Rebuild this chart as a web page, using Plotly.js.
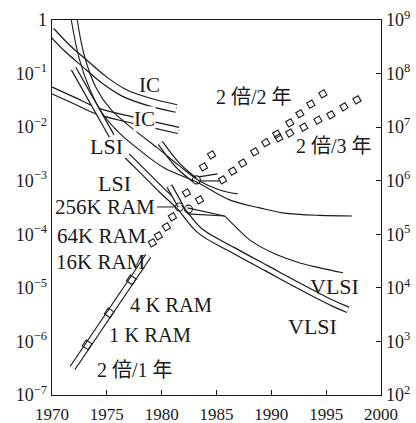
<!DOCTYPE html>
<html><head><meta charset="utf-8">
<script src="https://cdn.plot.ly/plotly-3.0.1.min.js"></script>
<style>html,body{margin:0;padding:0;background:#fff}#chart{width:416px;height:423px}</style>
</head><body><div id="chart"></div>
<script>
// ---------- descending curves (left axis) ----------
const icUpperYear = [1969.9, 1971.37, 1972.93, 1974.76, 1976.59, 1978.87, 1981.34];
const icUpperCost = [0.62, 0.30, 0.158, 0.076, 0.0435, 0.0295, 0.0223];
const icLowerYear = [1969.9, 1972.01, 1974.12, 1976.13, 1978.87, 1981.53];
const icLowerCost = [0.0494, 0.0315, 0.020, 0.0155, 0.0115, 0.00867];
const lsiUpperYear = [1971.97, 1975.44];
const lsiUpperCost = [0.124, 0.00686];
const trendAYear = [1971.74, 1972.47, 1973.48, 1974.57, 1976.13, 1977.96, 1980.25, 1983.17, 1986.19, 1988.94, 1991.04, 1994.43, 1997.36];
const trendACost = [1.05, 0.195, 0.0494, 0.0184, 0.0078, 0.00376, 0.00173, 0.00095, 0.000439, 0.000311, 0.000251, 0.000225, 0.00022];
const trendBYear = [1972.29, 1972.93, 1974.03, 1975.40, 1977.50, 1979.61, 1981.62, 1983.45, 1985.28, 1986.93];
const trendBCost = [1.05, 0.222, 0.0538, 0.0209, 0.00887, 0.00409, 0.00189, 0.00099, 0.000673, 0.000568];
const lsiMidYear = [1979.88, 1981.44, 1982.99];
const lsiMidCost = [0.00507, 0.00197, 0.00104];
const vlsiLowerYear = [1976.86, 1978.42, 1979.97, 1981.62, 1983.45, 1986.47, 1989.58, 1992.60, 1995.62, 1996.99];
const vlsiLowerCost = [0.0029, 0.0014, 0.000673, 0.000324, 0.000118, 5.12e-5, 2.31e-5, 1.07e-5, 5.14e-6, 3.89e-6];
const lsiLowerYear = [1980.70, 1981.71];
const lsiLowerCost = [0.0008, 0.000339];
const vlsiUpperYear = [1985.74, 1986.83, 1988.02, 1990.31, 1992.60, 1994.43, 1996.53];
const vlsiUpperCost = [0.00022, 0.000132, 7.87e-5, 4.31e-5, 2.92e-5, 2.36e-5, 1.91e-5];
const linkAYear = [1982.35, 1985.74];
const linkACost = [0.000311, 0.00022];
const linkBYear = [1982.35, 1985.74];
const linkBCost = [0.00024, 0.00022];
const linkCYear = [1983.36, 1985.10];
const linkCCost = [0.00118, 0.00134];
const linkDYear = [1983.36, 1985.37];
const linkDCost = [0.00099, 0.00099];

// ---------- bits per chip (right axis) ----------
const ramBandYear = [1971.88, 1978.78];
const ramBandBits = [321, 39550];
const ramChipYear = [1973.2, 1975.21, 1977.23];
const ramChipBits = [865, 3420, 14090];
const ramTrendYear = [1979.15, 1979.70, 1980.43, 1980.98, 1982.26, 1983.45, 1983.81, 1984.55];
const ramTrendBits = [69200, 93300, 137400, 211000, 591600, 438500, 1807000, 3027000];
const ramNodeYear = [1981.62, 1982.44, 1983.17];
const ramNodeBits = [323600, 295000, 1035000];
const twoPerTwoYear = [1985.55, 1986.47, 1987.38, 1988.48, 1989.49, 1990.49, 1991.68, 1992.6, 1993.6, 1994.7];
const twoPerTwoBits = [1.035e6, 1.514e6, 2.138e6, 3.467e6, 5.129e6, 7.413e6, 1.202e7, 1.778e7, 2.692e7, 4.169e7];
const twoPerThreeYear = [1990.68, 1991.68, 1992.96, 1994.25, 1995.43, 1996.62, 1997.81];
const twoPerThreeBits = [6.31e6, 7.76e6, 1.0e7, 1.349e7, 1.698e7, 2.399e7, 3.236e7];

// ---------- ticks ----------
const xTicks = [1970, 1975, 1980, 1985, 1990, 1995, 2000];
const leftTickVals = [1, 1e-1, 1e-2, 1e-3, 1e-4, 1e-5, 1e-6, 1e-7];
const leftTickText = ['1', '10<sup>−1</sup>', '10<sup>−2</sup>', '10<sup>−3</sup>', '10<sup>−4</sup>', '10<sup>−5</sup>', '10<sup>−6</sup>', '10<sup>−7</sup>'];
const rightTickVals = [1e2, 1e3, 1e4, 1e5, 1e6, 1e7, 1e8, 1e9];
const rightTickText = ['10<sup>2</sup>', '10<sup>3</sup>', '10<sup>4</sup>', '10<sup>5</sup>', '10<sup>6</sup>', '10<sup>7</sup>', '10<sup>8</sup>', '10<sup>9</sup>'];

const INK = '#1a1a1a';
const traces = [];
function band(x, y, w, axis) {
  traces.push({x: x, y: y, yaxis: axis, mode: 'lines', line: {color: INK, width: w + 2.4, shape: 'spline'}, hoverinfo: 'skip', showlegend: false});
  traces.push({x: x, y: y, yaxis: axis, mode: 'lines', line: {color: '#fff', width: w, shape: 'spline'}, hoverinfo: 'skip', showlegend: false});
}
function thin(x, y, axis) {
  traces.push({x: x, y: y, yaxis: axis, mode: 'lines', line: {color: INK, width: 1.1, shape: 'spline'}, hoverinfo: 'skip', showlegend: false});
}
function pts(x, y, sym, size, angle) {
  traces.push({x: x, y: y, yaxis: 'y2', mode: 'markers', hoverinfo: 'skip', showlegend: false,
    marker: {symbol: sym, size: size, angle: angle, color: INK, line: {color: INK, width: 1.1}}});
}

band(icUpperYear, icUpperCost, 6.5, 'y');
band(icLowerYear, icLowerCost, 5, 'y');
band(lsiUpperYear, lsiUpperCost, 4, 'y');
band(vlsiLowerYear, vlsiLowerCost, 4.5, 'y');
band(lsiMidYear, lsiMidCost, 4, 'y');
band(lsiLowerYear, lsiLowerCost, 4, 'y');
band(ramBandYear, ramBandBits, 4.5, 'y2');
thin(trendAYear, trendACost, 'y');
thin(trendBYear, trendBCost, 'y');
thin(vlsiUpperYear, vlsiUpperCost, 'y');
thin(linkAYear, linkACost, 'y');
thin(linkBYear, linkBCost, 'y');
thin(linkCYear, linkCCost, 'y');
thin(linkDYear, linkDCost, 'y');
pts(ramChipYear, ramChipBits, 'square-open', 7, 34);
pts(ramTrendYear, ramTrendBits, 'square-open', 6, -30);
pts(twoPerTwoYear, twoPerTwoBits, 'square-open', 6, -30);
pts(twoPerThreeYear, twoPerThreeBits, 'square-open', 6, -30);
pts(ramNodeYear, ramNodeBits, 'circle-open', 8, 0);

const LAT = 'Liberation Serif, Noto Sans CJK JP, serif';
function lab(text, x, y, size, extra) {
  return Object.assign({text: text, x: x, y: y, xref: 'x', yref: 'y', showarrow: false,
    font: {family: LAT, size: size, color: INK}}, extra || {});
}
const annotations = [
  lab('IC', 1978.87, -1.213, 21),
  lab('IC', 1978.42, -1.85, 21, {bgcolor: '#fff', borderpad: 0}),
  lab('LSI', 1974.94, -2.369, 22),
  lab('LSI', 1975.67, -3.06, 22),
  {text: '256K RAM', x: 1981.62, y: 5.51, xref: 'x', yref: 'y2', showarrow: true, arrowhead: 0,
   arrowwidth: 1, arrowcolor: INK, ax: -74, ay: 0, standoff: 4, font: {family: LAT, size: 21, color: INK}},
  lab('64K RAM', 1974.57, -4.03, 21),
  lab('16K RAM', 1974.48, -4.515, 21),
  lab('4 K RAM', 1980.89, -5.317, 20.5),
  lab('1 K RAM', 1978.97, -5.877, 20.5),
  lab('2 倍/1 年', 1977.59, -6.53, 20),
  lab('2 倍/2 年', 1988.39, -1.437, 20),
  lab('2 倍/3 年', 1995.71, -2.351, 20),
  lab('VLSI', 1995.8, -4.981, 22),
  lab('VLSI', 1993.79, -5.728, 22)
];

const layout = {
  width: 416, height: 423,
  margin: {l: 52, r: 35, t: 20, b: 28, pad: 0},
  paper_bgcolor: '#fff', plot_bgcolor: '#fff', showlegend: false,
  font: {family: LAT, color: INK, size: 17},
  xaxis: {range: [1970, 2000], tickvals: xTicks, ticktext: xTicks.map(String), ticks: 'inside', ticklen: 5,
    tickcolor: INK, showline: true, mirror: true, linecolor: INK, linewidth: 1.3, showgrid: false, zeroline: false,
    ticklabelstandoff: 3,
    tickfont: {family: LAT, size: 17, color: INK}, fixedrange: true},
  yaxis: {type: 'log', range: [-7, 0], tickvals: leftTickVals, ticktext: leftTickText, ticks: '',
    showline: true, linecolor: INK, linewidth: 1.3, showgrid: false, zeroline: false,
    tickfont: {family: LAT, size: 18, color: INK}, fixedrange: true},
  yaxis2: {type: 'log', range: [2, 9], overlaying: 'y', side: 'right', tickvals: rightTickVals, ticktext: rightTickText,
    ticks: 'inside', ticklen: 5, tickcolor: INK, showline: true, linecolor: INK, linewidth: 1.3,
    showgrid: false, zeroline: false, tickfont: {family: LAT, size: 18, color: INK}, fixedrange: true},
  annotations: annotations
};

Plotly.newPlot('chart', traces, layout, {displayModeBar: false, staticPlot: true});
</script>
</body></html>
